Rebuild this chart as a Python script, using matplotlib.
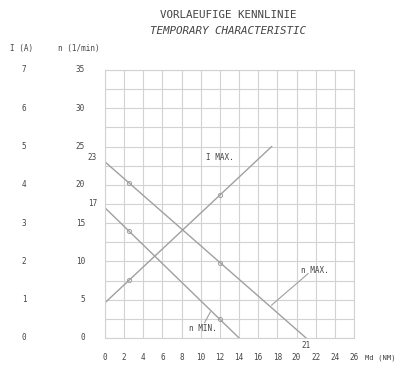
import matplotlib
matplotlib.use("Agg")
import matplotlib.pyplot as plt
import numpy as np
from matplotlib.transforms import blended_transform_factory

# Data
torque_ticks = list(range(0, 27, 2))
speed_ticks = [0, 5, 10, 15, 20, 25, 30, 35]
current_ticks = [0, 1, 2, 3, 4, 5, 6, 7]

n_max_x = [0, 21]
n_max_y = [23, 0]
n_min_x = [0, 14]
n_min_y = [17, 0]
i_max_x = [0, 17.4]
i_max_a = [0.92, 5.0]

marker_x = [2.5, 12]

FONT = "DejaVu Sans Mono"
TXT = "#444444"
LINE = "#a0a0a0"
GRID = "#d2d2d2"

fig = plt.figure(figsize=(3.97, 3.65), dpi=100)
W, H = 397, 365
ax = fig.add_axes([105 / W, 1 - 338 / H, (354 - 105) / W, (338 - 70) / H])
ax.set_xlim(0, 26)
ax.set_ylim(0, 35)
ax.set_xticks(np.arange(0, 26.1, 2))
ax.set_yticks(np.arange(0, 35.1, 2.5))
ax.grid(True, color=GRID, lw=0.8)
ax.tick_params(length=0, labelleft=False, labelbottom=False)
for s in ax.spines.values():
    s.set_color(GRID)
    s.set_linewidth(0.8)

# lines
ax.plot(n_max_x, n_max_y, color=LINE, lw=1.0)
ax.plot(n_min_x, n_min_y, color=LINE, lw=1.0)
ax.plot(i_max_x, [a * 5 for a in i_max_a], color=LINE, lw=1.0)

# markers
def interp(xs, ys, x):
    return np.interp(x, xs, ys)

for mx in marker_x:
    ax.plot(mx, interp(n_max_x, n_max_y, mx), 'o', ms=3, mfc='none', mec=LINE, mew=0.7)
    ax.plot(mx, interp(n_min_x, n_min_y, mx), 'o', ms=3, mfc='none', mec=LINE, mew=0.7)
    ax.plot(mx, interp(i_max_x, [a * 5 for a in i_max_a], mx), 'o', ms=3, mfc='none', mec=LINE, mew=0.7)

fs = 5.5
# x tick labels
xt = blended_transform_factory(ax.transData, fig.transFigure)
for t in torque_ticks:
    ax.text(t, 1 - 358 / H, str(t), transform=xt, ha='center', va='center',
            fontsize=fs, family=FONT, color=TXT)
ax.text(396 / W, 1 - 358 / H, "Md (NM)", transform=fig.transFigure, ha='right',
        va='center', fontsize=5.2, family=FONT, color=TXT)

# y tick labels
yt = blended_transform_factory(fig.transFigure, ax.transData)
for n in speed_ticks:
    ax.text(85 / W, n, str(n), transform=yt, ha='right', va='center',
            fontsize=fs, family=FONT, color=TXT)
for a in current_ticks:
    ax.text(24 / W, a * 5, str(a), transform=yt, ha='center', va='center',
            fontsize=fs, family=FONT, color=TXT)

fig.text(22 / W, 1 - 48 / H, "I (A)", ha='center', va='center', fontsize=fs,
         family=FONT, color=TXT)
fig.text(79 / W, 1 - 48 / H, "n (1/min)", ha='center', va='center', fontsize=fs,
         family=FONT, color=TXT)

# intercept labels
ax.text(97 / W, n_max_y[0], "23", transform=yt, ha='right', va='bottom',
        fontsize=fs, family=FONT, color=TXT)
ax.text(97 / W, n_min_y[0], "17", transform=yt, ha='right', va='bottom',
        fontsize=fs, family=FONT, color=TXT)
ax.text(n_max_x[1], 1 - 345 / H, "21", transform=xt, ha='center', va='center',
        fontsize=fs, family=FONT, color=TXT)

# curve labels
ax.text(12.0, 23.6, "I MAX.", ha='center', va='center', fontsize=fs,
        family=FONT, color=TXT)
ax.text(21.9, 8.8, "n MAX.", ha='center', va='center', fontsize=fs,
        family=FONT, color=TXT)
ax.text(10.2, 1.2, "n MIN.", ha='center', va='center', fontsize=fs,
        family=FONT, color=TXT)
# leader lines
ax.plot([21.2, 17.4], [8.4, 4.3], color=LINE, lw=0.8)
ax.plot([10.4, 11.0], [2.0, 3.4], color=LINE, lw=0.8)

# title
fig.text(228 / W, 1 - 15 / H, "VORLAEUFIGE KENNLINIE", ha='center', va='center',
         fontsize=7.8, family=FONT, color=TXT)
fig.text(228 / W, 1 - 31 / H, "TEMPORARY CHARACTERISTIC", ha='center', va='center',
         fontsize=7.8, family=FONT, color=TXT, style='italic')

fig.savefig("out.png", dpi=100)
